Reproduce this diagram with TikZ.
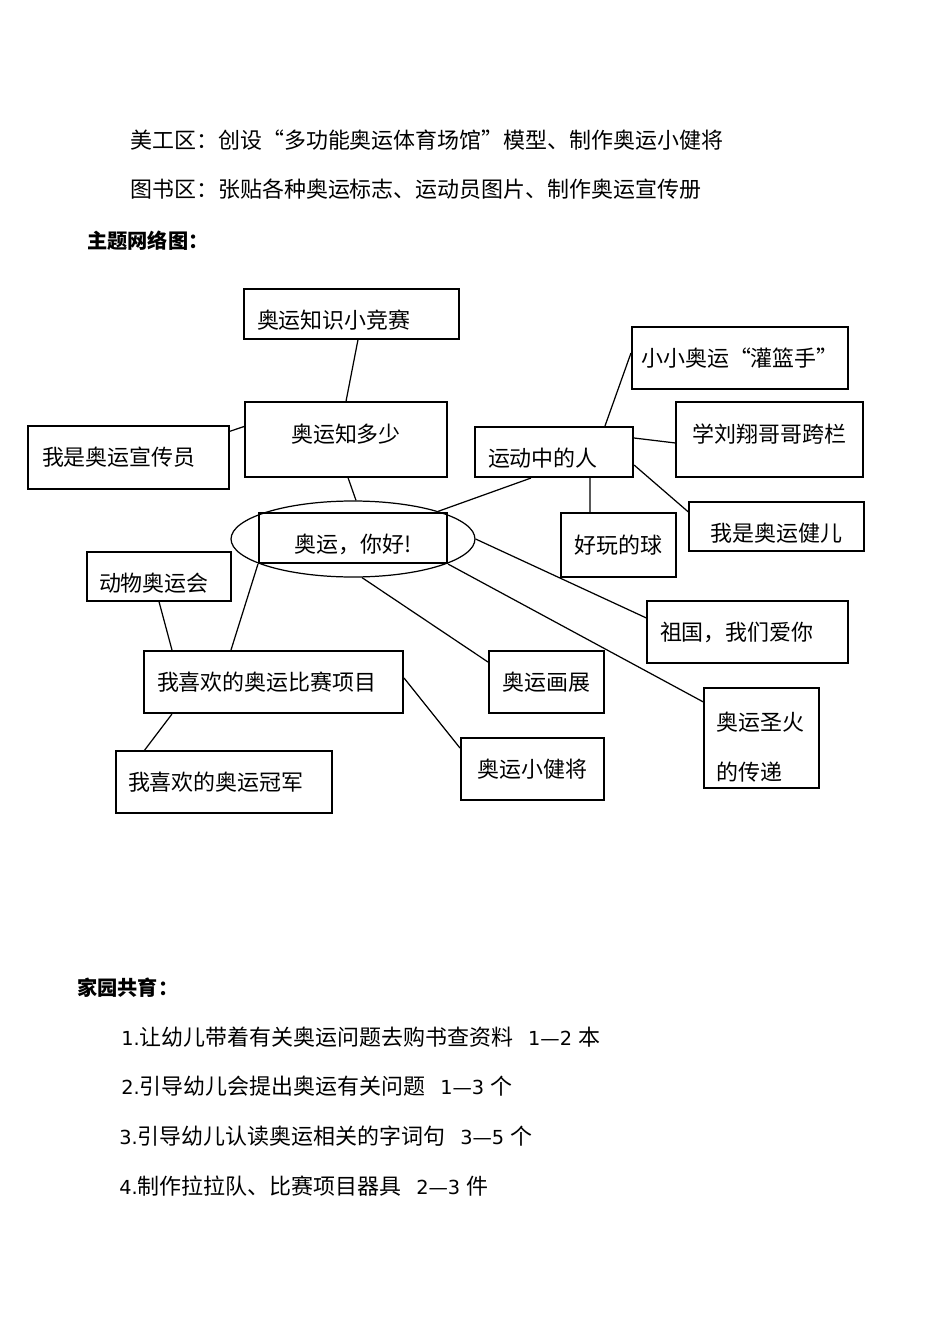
\documentclass[tikz,border=0pt]{standalone}
\usepackage{fontspec}
\setmainfont{Noto Sans CJK SC}
\newfontfamily\numfont{DejaVu Sans}[Scale=0.88]
\usetikzlibrary{shapes.geometric}

\begin{document}
\begin{tikzpicture}[x=0.02cm, y=-0.02cm,
  txt/.style={anchor=west, inner sep=0pt, font=\fontsize{12.5}{15}\selectfont},
  head/.style={anchor=west, inner sep=0pt, font=\fontsize{11.5}{14}\selectfont\bfseries},
  topic/.style={draw, line width=0.7pt, inner sep=0pt, font=\fontsize{12.5}{15}\selectfont},
  topicb/.style={topic, line width=1.2pt},
  low/.style={text height=17pt, text depth=0pt},
  high/.style={text height=12pt, text depth=9pt},
  link/.style={line width=0.7pt}]
  \useasboundingbox (0,0) rectangle (950,1344);

  % Corners
  \node[txt] (art) at (130,140) {美工区：创设“多功能奥运体育场馆”模型、制作奥运小健将};
  \node[txt] (books) at (130,189) {图书区：张贴各种奥运标志、运动员图片、制作奥运宣传册};
  \node[head] (mapttl) at (87,241) {主题网络图：};

  % Centre
  \node[draw, ellipse, line width=0.7pt, inner sep=0pt, minimum width=4.88cm, minimum height=1.52cm] (ring) at (353,539) {};
  \node[topicb, minimum width=3.76cm, minimum height=1cm, low] (hello) at (353,538) {奥运，你好!};

  % Upper left
  \node[topic, minimum width=4.3cm, minimum height=1cm, text width=3.78cm, align=left, low] (quiz) at (351.5,314) {奥运知识小竞赛};
  \node[topic, minimum width=4.04cm, minimum height=1.5cm, high] (know) at (346,439.5) {奥运知多少};
  \node[topic, minimum width=4.02cm, minimum height=1.26cm, text width=3.46cm, align=left] (promo) at (128.5,457.5) {我是奥运宣传员};

  % Upper right
  \node[topicb, minimum width=3.16cm, minimum height=1cm, text width=2.64cm, align=left, low] (people) at (554,452) {运动中的人};
  \node[topicb, minimum width=4.32cm, minimum height=1.24cm] (dunk) at (740,358) {小小奥运“灌篮手”};
  \node[topic, minimum width=3.74cm, minimum height=1.5cm, high] (hurdle) at (769.5,439.5) {学刘翔哥哥跨栏};
  \node[topic, minimum width=3.5cm, minimum height=0.98cm, low] (athlete) at (776.5,526.5) {我是奥运健儿};
  \node[topic, minimum width=2.3cm, minimum height=1.28cm] (ball) at (618.5,545) {好玩的球};

  % Lower right
  \node[topic, minimum width=4.02cm, minimum height=1.24cm, text width=3.5cm, align=left] (homeland) at (747.5,632) {祖国，我们爱你};
  \node[topic, minimum width=2.3cm, minimum height=2cm, text width=1.8cm, align=left, font=\fontsize{12.5}{28.5}\selectfont, text height=21pt] (torch) at (761.5,738) {奥运圣火\\的传递};
  \node[topicb, minimum width=2.3cm, minimum height=1.24cm] (painting) at (546.5,682) {奥运画展};
  \node[topicb, minimum width=2.86cm, minimum height=1.24cm] (minis) at (532.5,769) {奥运小健将};

  % Lower left
  \node[topic, minimum width=2.88cm, minimum height=0.98cm, text width=2.4cm, align=left, low] (animals) at (159,576.5) {动物奥运会};
  \node[topicb, minimum width=5.18cm, minimum height=1.24cm, text width=4.66cm, align=left] (events) at (273.5,682) {我喜欢的奥运比赛项目};
  \node[topic, minimum width=4.32cm, minimum height=1.24cm, text width=3.84cm, align=left] (champ) at (224,782) {我喜欢的奥运冠军};

  % Links
  \draw[link] ([xshift=0.13cm]quiz.south) -- (know.north);
  \draw[link] ([yshift=-0.12cm]promo.north east) -- ([yshift=-0.5cm]know.north west);
  \draw[link] ([xshift=0.04cm]know.south) -- ([xshift=0.06cm]ring.north);
  \draw[link] ([xshift=1.14cm]people.south west) -- (ring.18);
  \draw[link] ([xshift=1.02cm]people.north) -- ([yshift=0.1cm]dunk.west);
  \draw[link] ([yshift=0.28cm]people.east) -- ([yshift=-0.07cm]hurdle.west);
  \draw[link] ([yshift=-0.26cm]people.east) -- ([yshift=0.29cm]athlete.west);
  \draw[link] ([xshift=0.72cm]people.south) -- ([xshift=-0.57cm]ball.north);
  \draw[link] (ring.east) -- ([yshift=0.28cm]homeland.west);
  \draw[link] (hello.south east) -- ([yshift=0.72cm]torch.west);
  \draw[link] ([xshift=0.18cm]ring.south) -- ([yshift=0.4cm]painting.west);
  \draw[link] (hello.south west) -- ([xshift=-0.85cm]events.north);
  \draw[link] (animals.south) -- ([xshift=0.58cm]events.north west);
  \draw[link] ([xshift=0.58cm]events.south west) -- ([xshift=0.58cm]champ.north west);
  \draw[link] ([yshift=0.08cm]events.east) -- ([yshift=0.42cm]minis.west);

  % Home
  \node[head] (homettl) at (77,988) {家园共育：};
  \node[txt] (item1) at (121,1037) {{\numfont 1.}让幼儿带着有关奥运问题去购书查资料\hspace{0.3cm}{\numfont 1—2}\hspace{0.12cm}本};
  \node[txt] (item2) at (121,1086) {{\numfont 2.}引导幼儿会提出奥运有关问题\hspace{0.3cm}{\numfont 1—3}\hspace{0.12cm}个};
  \node[txt] (item3) at (119,1136) {{\numfont 3.}引导幼儿认读奥运相关的字词句\hspace{0.3cm}{\numfont 3—5}\hspace{0.12cm}个};
  \node[txt] (item4) at (119,1186) {{\numfont 4.}制作拉拉队、比赛项目器具\hspace{0.3cm}{\numfont 2—3}\hspace{0.12cm}件};
\end{tikzpicture}
\end{document}
